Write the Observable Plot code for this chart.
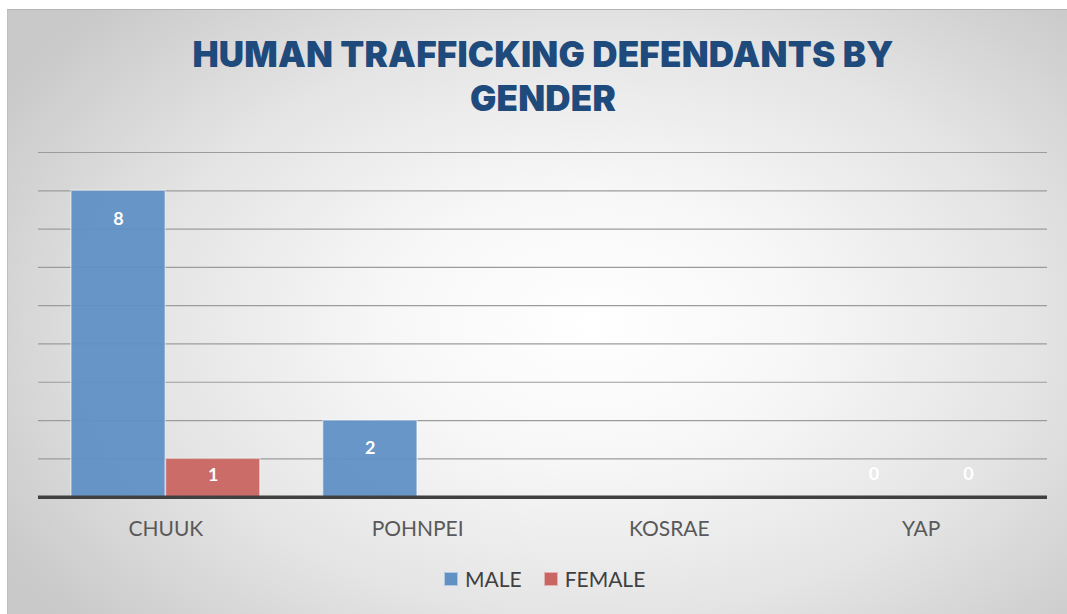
<!DOCTYPE html>
<html>
<head>
<meta charset="utf-8">
<script src="https://cdn.jsdelivr.net/npm/d3@7"></script>
<script src="https://cdn.jsdelivr.net/npm/@observablehq/plot@0.6"></script>
<style>
  html, body { margin: 0; padding: 0; background: #ffffff; }
  #frame {
    position: absolute; left: 7px; top: 9px; width: 1060px; height: 605px;
    overflow: hidden; box-sizing: border-box;
    border-top: 1px solid #b4b4b4; border-left: 1px solid #c0c0c0;
    background: radial-gradient(ellipse 65% 75% at 55% 52%, #ffffff 0%, #f7f7f7 30%, #e4e4e4 65%, #c9c9c9 100%);
  }
  #title {
    position: absolute; left: 5px; top: 22px; width: 1060px; text-align: center;
    font-family: Inter, "DejaVu Sans", sans-serif; font-weight: 900; font-size: 35px;
    line-height: 44px; color: #1F4A7C; letter-spacing: 0.2px;
  }
  #chart { position: absolute; left: 0; top: 130px; }
  #legend {
    position: absolute; left: 436px; top: 556px; display: flex; align-items: center;
    font-family: Lato, "Open Sans", sans-serif; font-size: 21px; color: #404040;
  }
  .item { display: flex; align-items: center; margin-right: 22px; }
  .sw { width: 14px; height: 14px; margin-right: 7px; box-sizing: border-box; }
</style>
</head>
<body>
<div id="frame">
  <div id="title">HUMAN TRAFFICKING DEFENDANTS BY<br>GENDER</div>
  <div id="chart"></div>
  <div id="legend"></div>
</div>
<script>
const regions = ["CHUUK", "POHNPEI", "KOSRAE", "YAP"];
const genders = ["MALE", "FEMALE"];
const colors = ["#6190C5", "#C96562"];
const maleValues = [8, 2, null, 0];
const femaleValues = [1, null, null, 0];
const gridTicks = [1, 2, 3, 4, 5, 6, 7, 8, 9];

const male = regions.map((r, i) => ({region: r, gender: "MALE", value: maleValues[i]})).filter(d => d.value !== null);
const female = regions.map((r, i) => ({region: r, gender: "FEMALE", value: femaleValues[i]})).filter(d => d.value !== null);

const labelFont = "Lato, 'Open Sans', sans-serif";
const W = 1060, ML = 30, MR = 20;
const step = (W - ML - MR) / (regions.length);
const half = step * 0.75 / 2;

function labels(arr, dx) {
  const opts = {x: "region", y: "value", text: d => String(d.value), dx,
    fill: "white", fontWeight: "bold", fontSize: 18, fontFamily: labelFont};
  return [
    Plot.text(arr.filter(d => d.value >= 2), {...opts, dy: 28}),
    Plot.text(arr.filter(d => d.value === 1), {...opts, dy: 16}),
    Plot.text(arr.filter(d => d.value === 0), {...opts, dy: -23})
  ];
}

const plot = Plot.plot({
  width: W,
  height: 410,
  marginLeft: ML,
  marginRight: MR,
  marginTop: 12,
  marginBottom: 53,
  style: {background: "transparent", fontFamily: labelFont, overflow: "visible"},
  x: {domain: regions, paddingInner: 0.25, paddingOuter: 0.125, label: null},
  y: {domain: [0, 9], axis: null},
  marks: [
    Plot.gridY(gridTicks, {stroke: "#9c9c9c", strokeOpacity: 1, strokeWidth: 1.2}),
    Plot.barY(male, {x: "region", y: "value", fill: colors[0], fillOpacity: 0.95, insetRight: half,
      stroke: "#ffffff", strokeOpacity: 0.45, strokeWidth: 1.5}),
    Plot.barY(female, {x: "region", y: "value", fill: colors[1], fillOpacity: 0.95, insetLeft: half,
      stroke: "#ffffff", strokeOpacity: 0.45, strokeWidth: 1.5}),
    ...labels(male, -half / 2),
    ...labels(female, half / 2),
    Plot.ruleY([0], {stroke: "#404040", strokeWidth: 3.5}),
    Plot.axisX({anchor: "bottom", tickSize: 0, tickPadding: 24, fontSize: 21, fill: "#595959", label: null, fontFamily: labelFont})
  ]
});
document.getElementById("chart").appendChild(plot);

const legend = document.getElementById("legend");
genders.forEach((g, i) => {
  const item = document.createElement("div");
  item.className = "item";
  const sw = document.createElement("div");
  sw.className = "sw";
  sw.style.background = colors[i];
  sw.style.border = "1px solid rgba(255,255,255,0.5)";
  const t = document.createElement("span");
  t.textContent = g;
  item.appendChild(sw); item.appendChild(t);
  legend.appendChild(item);
});
</script>
</body>
</html>
